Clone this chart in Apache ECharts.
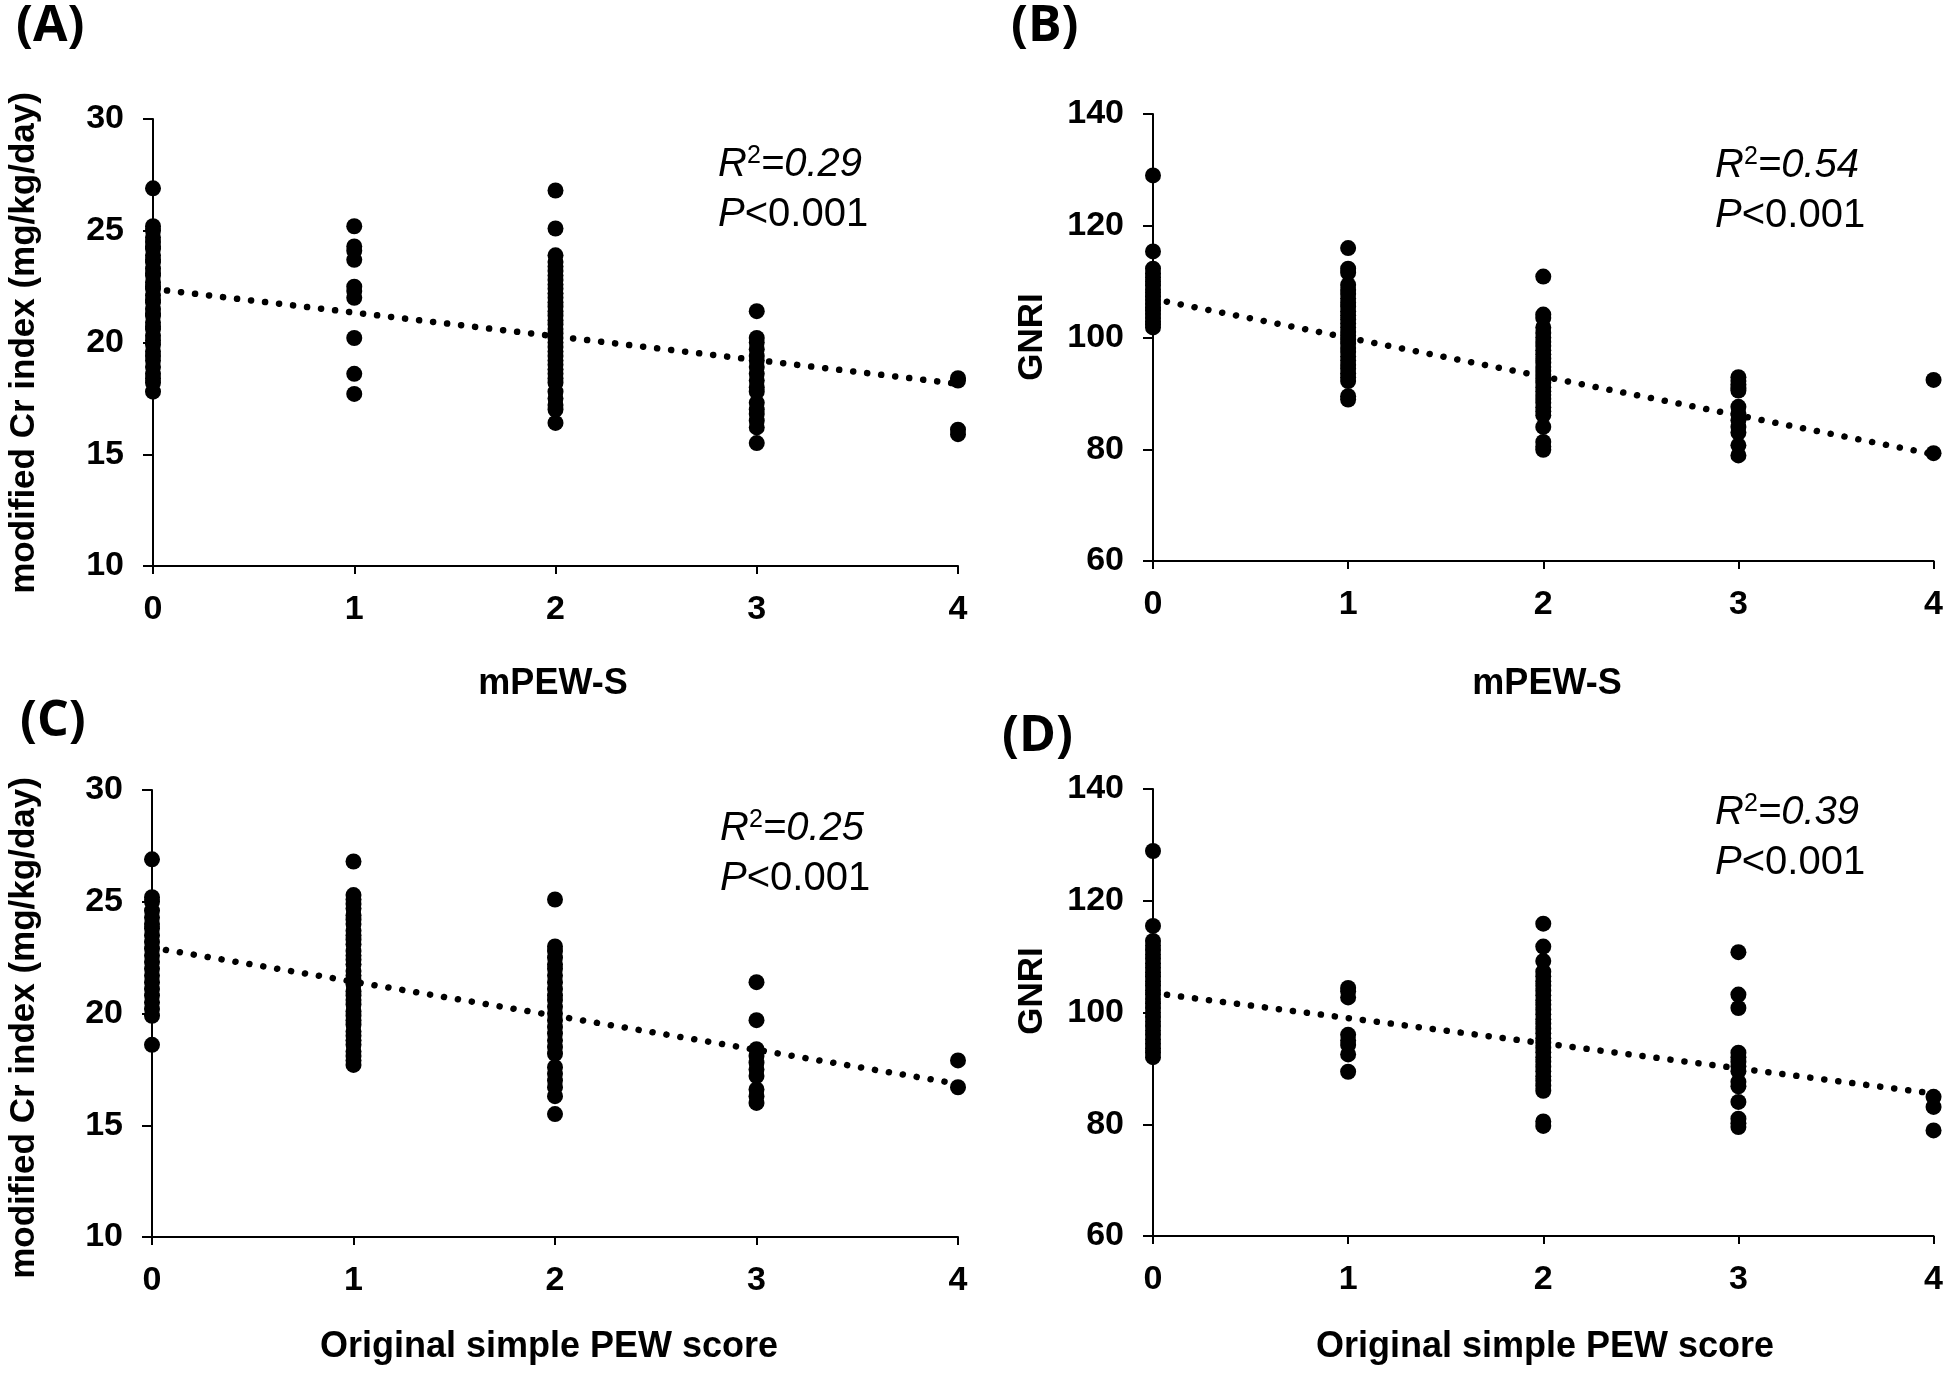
<!DOCTYPE html>
<html>
<head>
<meta charset="utf-8">
<script src="https://cdn.jsdelivr.net/npm/echarts@6/dist/echarts.min.js"></script>
<style>
  html, body { margin: 0; padding: 0; background: #fff; }
  #chart { width: 1946px; height: 1375px; }
</style>
</head>
<body>
<div id="chart"></div>
<script>
// x categories (score values)
const scores = [0, 1, 2, 3, 4];

// (A) modified Cr index by mPEW-S
const crByMpew = [
  [26.9, 25.2, 25.0, 24.7, 24.5, 24.3, 24.2, 23.9, 23.7, 23.6, 23.3, 23.1, 23.0, 22.7, 22.5, 22.4, 22.1, 21.9, 21.8, 21.5, 21.3, 21.2, 20.9, 20.7, 20.6, 20.3, 20.1, 19.9, 19.6, 19.4, 19.2, 18.9, 18.6, 18.4, 18.2, 17.8],
  [25.2, 24.3, 24.1, 23.7, 22.5, 22.3, 22.0, 20.2, 18.6, 17.7],
  [26.8, 25.1, 23.9, 23.6, 23.4, 23.2, 23.0, 22.8, 22.6, 22.4, 22.2, 22.0, 21.8, 21.6, 21.4, 21.2, 21.0, 20.8, 20.6, 20.4, 20.2, 20.0, 19.8, 19.6, 19.4, 19.2, 19.0, 18.8, 18.6, 18.4, 18.2, 17.8, 17.5, 17.2, 17.0, 16.4],
  [21.4, 20.2, 20.0, 19.7, 19.4, 19.2, 18.9, 18.6, 18.3, 18.0, 17.8, 17.3, 17.0, 16.8, 16.5, 16.2, 15.5],
  [18.4, 18.3, 16.1, 15.9]
];
// (B) GNRI by mPEW-S
const gnriByMpew = [
  [129.0, 115.4, 112.3, 111.5, 110.8, 110.0, 109.3, 108.6, 108.0, 107.3, 106.7, 106.0, 105.4, 104.8, 104.2, 103.5, 102.9, 102.3, 101.8],
  [116.0, 112.3, 111.6, 109.4, 108.5, 107.8, 107.0, 106.2, 105.5, 104.7, 104.0, 103.2, 102.5, 101.8, 101.0, 100.3, 99.6, 98.9, 98.1, 97.4, 96.6, 95.9, 95.1, 94.4, 93.6, 92.9, 92.2, 89.5, 88.9],
  [110.9, 104.1, 103.5, 101.8, 100.8, 100.0, 99.2, 98.5, 97.7, 97.0, 96.2, 95.5, 94.7, 94.0, 93.3, 92.6, 91.9, 91.1, 90.4, 89.7, 89.0, 88.3, 87.5, 86.8, 86.1, 84.0, 81.3, 80.5, 79.9],
  [92.9, 92.2, 91.6, 91.0, 90.5, 87.6, 86.4, 85.2, 84.0, 83.0, 80.7, 78.9],
  [92.4, 79.3]
];
// (C) modified Cr index by original simple PEW score
const crByPew = [
  [26.9, 25.2, 25.0, 24.6, 24.3, 24.0, 23.8, 23.5, 23.2, 22.9, 22.6, 22.3, 22.0, 21.7, 21.4, 21.1, 20.8, 20.5, 20.2, 19.9, 18.6],
  [26.8, 25.3, 25.1, 24.9, 24.7, 24.4, 24.2, 24.0, 23.7, 23.5, 23.3, 23.1, 22.8, 22.6, 22.4, 22.2, 21.9, 21.7, 21.5, 21.3, 21.0, 20.8, 20.6, 20.4, 20.1, 19.9, 19.7, 19.5, 19.2, 19.0, 18.8, 18.6, 18.3, 18.1, 17.9, 17.7],
  [25.1, 23.0, 22.8, 22.5, 22.2, 22.0, 21.7, 21.4, 21.1, 20.8, 20.6, 20.3, 20.0, 19.7, 19.4, 19.1, 18.8, 18.5, 18.2, 17.6, 17.3, 17.0, 16.7, 16.3, 15.5],
  [21.4, 19.7, 18.4, 18.1, 17.8, 17.5, 17.2, 16.6, 16.3, 16.0],
  [17.9, 16.7]
];
// (D) GNRI by original simple PEW score
const gnriByPew = [
  [128.9, 115.5, 112.8, 112.0, 111.2, 110.4, 109.6, 108.8, 108.0, 107.2, 106.4, 105.6, 104.8, 104.0, 103.2, 102.4, 101.6, 100.8, 100.0, 99.2, 98.4, 97.6, 96.8, 96.0, 95.2, 94.4, 93.6, 92.8, 92.0],
  [104.4, 103.8, 102.7, 96.0, 95.0, 94.2, 92.5, 89.4],
  [115.9, 111.8, 109.2, 107.3, 106.5, 105.6, 104.8, 103.9, 103.1, 102.2, 101.4, 100.5, 99.7, 98.8, 98.0, 97.1, 96.3, 95.4, 94.6, 93.7, 92.9, 92.0, 91.2, 90.3, 89.5, 88.6, 87.8, 86.9, 86.0, 80.5, 79.7],
  [110.8, 103.2, 100.8, 92.8, 92.0, 91.2, 90.4, 89.5, 87.6, 86.8, 84.0, 81.0, 80.2, 79.5],
  [84.9, 83.1, 78.9]
];

// trend line values at score 0 and score 4
const trendX = [0, 4];
const trendCrMpew = [22.4, 18.15];
const trendGnriMpew = [106.9, 79.1];
const trendCrPew = [22.95, 16.85];
const trendGnriPew = [103.5, 85.5];

const statsText = [
  ['0.29', '<0.001'],
  ['0.54', '<0.001'],
  ['0.25', '<0.001'],
  ['0.39', '<0.001']
];

const ARIAL = '"Liberation Sans", Arial, sans-serif';

const grids = [
  { left: 153, top: 119, width: 805, height: 447 },
  { left: 1153, top: 114, width: 786, height: 447 },
  { left: 152, top: 790, width: 806, height: 447 },
  { left: 1153, top: 789, width: 786, height: 447 }
];
const yRanges = [
  { min: 10, max: 30, interval: 5 },
  { min: 60, max: 140, interval: 20 },
  { min: 10, max: 30, interval: 5 },
  { min: 60, max: 140, interval: 20 }
];
const panelData = [crByMpew, gnriByMpew, crByPew, gnriByPew];
const trends = [trendCrMpew, trendGnriMpew, trendCrPew, trendGnriPew];

const toPoints = (cols) => cols.flatMap((col, i) => col.map((v) => [scores[i], v]));

const axisLine = { show: true, lineStyle: { color: '#000', width: 2 } };

const option = {
  backgroundColor: '#fff',
  animation: false,
  grid: grids,
  xAxis: grids.map((g, i) => ({
    type: 'value',
    gridIndex: i,
    min: 0,
    max: 4,
    interval: 1,
    axisLine: axisLine,
    axisTick: { show: true, length: 8, lineStyle: { color: '#000', width: 2 } },
    axisLabel: { color: '#000', fontFamily: ARIAL, fontWeight: 'bold', fontSize: 34, margin: 27 },
    splitLine: { show: false }
  })),
  yAxis: grids.map((g, i) => ({
    type: 'value',
    gridIndex: i,
    min: yRanges[i].min,
    max: yRanges[i].max,
    interval: yRanges[i].interval,
    axisLine: axisLine,
    axisTick: { show: true, length: 10, lineStyle: { color: '#000', width: 2 } },
    axisLabel: { color: '#000', fontFamily: ARIAL, fontWeight: 'bold', fontSize: 34, margin: 29 },
    splitLine: { show: false }
  })),
  series: [
    ...panelData.map((cols, i) => ({
      type: 'scatter',
      xAxisIndex: i,
      yAxisIndex: i,
      symbol: 'circle',
      symbolSize: 16,
      itemStyle: { color: '#000', opacity: 1 },
      data: toPoints(cols),
      z: 2
    })),
    ...trends.map((t, i) => ({
      type: 'line',
      xAxisIndex: i,
      yAxisIndex: i,
      symbol: 'none',
      lineStyle: { color: '#000', width: 6.5, type: [0.1, 14], cap: 'round' },
      data: trendX.map((x, k) => [x, t[k]]),
      z: 3
    }))
  ],
  graphic: []
};

// panel letters
const letters = [
  { t: '(A)', x: 16, y: 2 },
  { t: '(B)', x: 1011, y: 2 },
  { t: '(C)', x: 20, y: 697 },
  { t: '(D)', x: 1002, y: 712 }
];
letters.forEach((l) => option.graphic.push({
  type: 'text', left: l.x, top: l.y,
  style: { text: l.t, fill: '#000', font: 'bold 50px "Open Sans", Lato, sans-serif' }
}));

// axis titles
const yTitles = [
  { t: 'modified Cr index (mg/kg/day)', x: 24, y: 343 },
  { t: 'GNRI', x: 1032, y: 337 },
  { t: 'modified Cr index (mg/kg/day)', x: 24, y: 1028 },
  { t: 'GNRI', x: 1032, y: 991 }
];
yTitles.forEach((a) => option.graphic.push({
  type: 'text', x: a.x, y: a.y, rotation: Math.PI / 2,
  style: {
    text: a.t, fill: '#000', font: 'bold 35px ' + ARIAL,
    align: 'center', verticalAlign: 'middle', textAlign: 'center', textVerticalAlign: 'middle'
  }
}));
const xTitles = [
  { t: 'mPEW-S', x: 553, y: 684 },
  { t: 'mPEW-S', x: 1547, y: 684 },
  { t: 'Original simple PEW score', x: 549, y: 1347 },
  { t: 'Original simple PEW score', x: 1545, y: 1347 }
];
xTitles.forEach((a) => option.graphic.push({
  type: 'text', x: a.x, y: a.y,
  style: {
    text: a.t, fill: '#000', font: 'bold 36px ' + ARIAL,
    align: 'center', verticalAlign: 'middle', textAlign: 'center', textVerticalAlign: 'middle'
  }
}));

// R squared / P annotations
const statPos = [
  { x: 718, y: 140 },
  { x: 1715, y: 141 },
  { x: 720, y: 804 },
  { x: 1715, y: 788 }
];
statPos.forEach((p, i) => option.graphic.push({
  type: 'text', x: p.x, y: p.y,
  style: {
    text: '{it|R}{sup|2}{it|=' + statsText[i][0] + '}\n{it|P}{rg|' + statsText[i][1] + '}',
    fill: '#000',
    rich: {
      it: { fontFamily: ARIAL, fontStyle: 'italic', fontSize: 40, lineHeight: 50, fill: '#000' },
      rg: { fontFamily: ARIAL, fontSize: 40, lineHeight: 50, fill: '#000' },
      sup: { fontFamily: ARIAL, fontSize: 25, lineHeight: 25, verticalAlign: 'top', padding: [4, 0, 0, 0], fill: '#000' }
    }
  }
}));

const chart = echarts.init(document.getElementById('chart'));
chart.setOption(option);
</script>
</body>
</html>
